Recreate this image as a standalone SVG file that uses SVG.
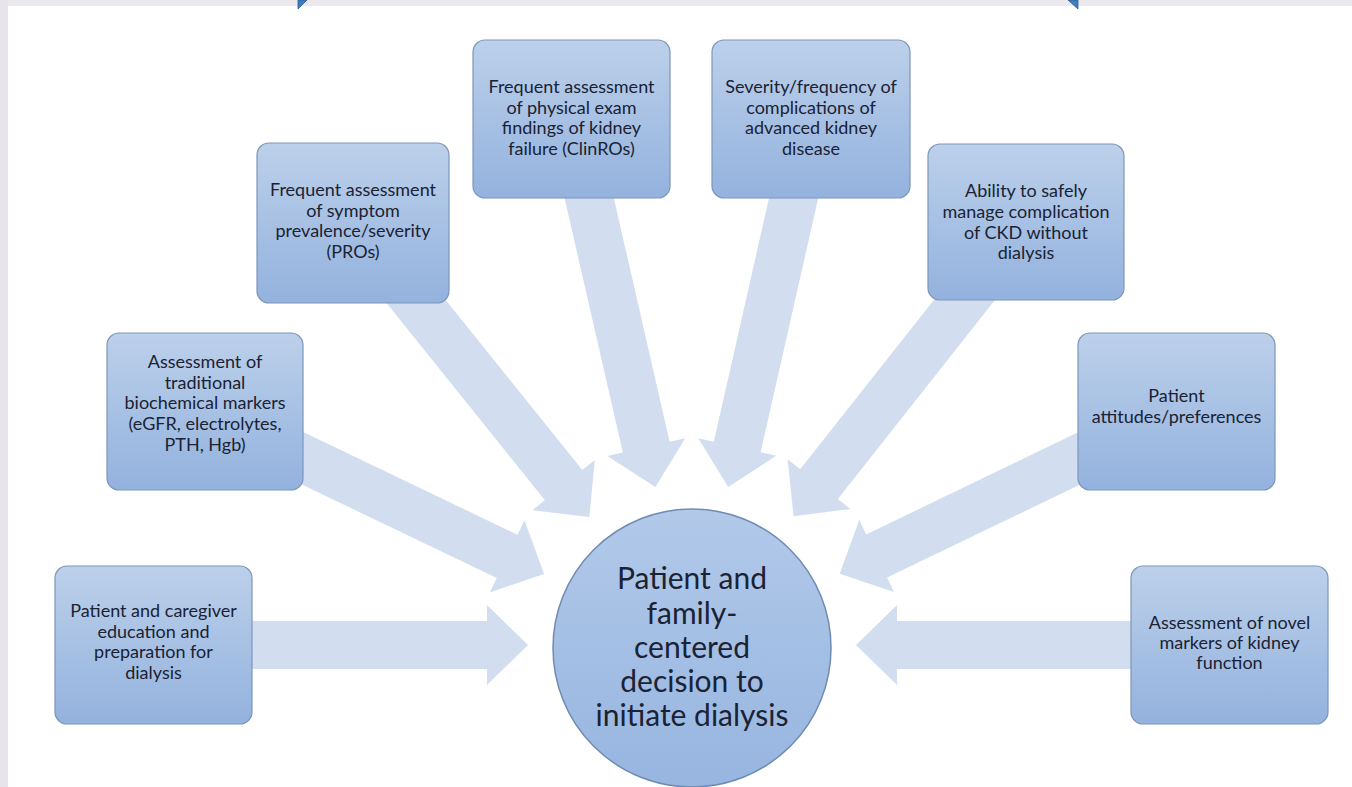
<svg xmlns="http://www.w3.org/2000/svg" width="1352" height="787" viewBox="0 0 1352 787">
<defs>
<linearGradient id="boxg" x1="0" y1="0" x2="0" y2="1">
<stop offset="0" stop-color="#bcd0ea"/>
<stop offset="1" stop-color="#93b2de"/>
</linearGradient>
<linearGradient id="circg" x1="0" y1="0" x2="0" y2="1">
<stop offset="0" stop-color="#b2c9e9"/>
<stop offset="1" stop-color="#96b5e0"/>
</linearGradient>
<path id="arr" d="M0,0 L-41,-40 L-41,-24 L-325,-24 L-325,24 L-41,24 L-41,40 Z"/>
</defs>
<style>
.box{fill:url(#boxg);stroke:#7d95ba;stroke-width:1.2}
.circ{fill:url(#circg);stroke:#6f8bb3;stroke-width:1.5}
.t{font-family:Lato,"Liberation Sans",sans-serif;font-size:18px;fill:#1a2233;text-anchor:middle}
.ct{font-family:Lato,"Liberation Sans",sans-serif;font-size:30px;fill:#1a2233;text-anchor:middle}
.a{fill:#d2deef}
</style>
<rect x="0" y="0" width="1352" height="787" fill="#ffffff"/>
<rect x="0" y="0" width="1352" height="6" fill="#ebe8ee"/>
<rect x="0" y="0" width="8" height="787" fill="#e8e4eb"/>
<polygon points="298,0 307,0 298,9" fill="#3f7cc2" stroke="#2f5f96" stroke-width="0.8"/>
<polygon points="1068,0 1078,0 1078,9" fill="#3f7cc2" stroke="#2f5f96" stroke-width="0.8"/>

<g id="connectors">
<use href="#arr" class="a" transform="translate(528,645) rotate(0)"/>
<use href="#arr" class="a" transform="translate(856,645) rotate(180)"/>
<use href="#arr" class="a" transform="translate(544.1,574.1) rotate(25.62)"/>
<use href="#arr" class="a" transform="translate(589.3,517.1) rotate(51.22)"/>
<use href="#arr" class="a" transform="translate(655.4,487.1) rotate(77.10)"/>
<use href="#arr" class="a" transform="translate(728.2,487.0) rotate(102.75)"/>
<use href="#arr" class="a" transform="translate(793.6,516.3) rotate(128.30)"/>
<use href="#arr" class="a" transform="translate(839.7,573.8) rotate(154.27)"/>
</g>

<g id="n-caregiver">
<rect class="box" x="55" y="566" width="197" height="158" rx="12"/>
<text class="t" x="153.5" y="617">Patient and caregiver</text>
<text class="t" x="153.5" y="638">education and</text>
<text class="t" x="153.5" y="658">preparation for</text>
<text class="t" x="153.5" y="679">dialysis</text>
</g>

<g id="n-traditional">
<rect class="box" x="107" y="333" width="196" height="157" rx="12"/>
<text class="t" x="205" y="368">Assessment of</text>
<text class="t" x="205" y="388.5">traditional</text>
<text class="t" x="205" y="409">biochemical markers</text>
<text class="t" x="205" y="430">(eGFR, electrolytes,</text>
<text class="t" x="205" y="450.5">PTH, Hgb)</text>
</g>

<g id="n-pros">
<rect class="box" x="257" y="143" width="192" height="160" rx="12"/>
<text class="t" x="353" y="196">Frequent assessment</text>
<text class="t" x="353" y="216.5">of symptom</text>
<text class="t" x="353" y="237">prevalence/severity</text>
<text class="t" x="353" y="258">(PROs)</text>
</g>

<g id="n-clinros">
<rect class="box" x="473" y="40" width="197" height="158" rx="12"/>
<text class="t" x="571.5" y="93">Frequent assessment</text>
<text class="t" x="571.5" y="113.5">of physical exam</text>
<text class="t" x="571.5" y="134">findings of kidney</text>
<text class="t" x="571.5" y="154.5">failure (ClinROs)</text>
</g>

<g id="n-severity">
<rect class="box" x="712" y="40" width="198" height="158" rx="12"/>
<text class="t" x="811" y="93">Severity/frequency of</text>
<text class="t" x="811" y="113.5">complications of</text>
<text class="t" x="811" y="134">advanced kidney</text>
<text class="t" x="811" y="154.5">disease</text>
</g>

<g id="n-ability">
<rect class="box" x="928" y="144" width="196" height="156" rx="12"/>
<text class="t" x="1026" y="197">Ability to safely</text>
<text class="t" x="1026" y="218">manage complication</text>
<text class="t" x="1026" y="239">of CKD without</text>
<text class="t" x="1026" y="259">dialysis</text>
</g>

<g id="n-attitudes">
<rect class="box" x="1078" y="333" width="197" height="157" rx="12"/>
<text class="t" x="1176.5" y="402">Patient</text>
<text class="t" x="1176.5" y="423">attitudes/preferences</text>
</g>

<g id="n-novel">
<rect class="box" x="1131" y="566" width="197" height="158" rx="12"/>
<text class="t" x="1229.5" y="629">Assessment of novel</text>
<text class="t" x="1229.5" y="649">markers of kidney</text>
<text class="t" x="1229.5" y="669">function</text>
</g>

<g id="n-decision">
<circle class="circ" cx="692" cy="648" r="139"/>
<text class="ct" x="692" y="589">Patient and</text>
<text class="ct" x="692" y="623.5">family-</text>
<text class="ct" x="692" y="658">centered</text>
<text class="ct" x="692" y="692">decision to</text>
<text class="ct" x="692" y="726">initiate dialysis</text>
</g>
</svg>
